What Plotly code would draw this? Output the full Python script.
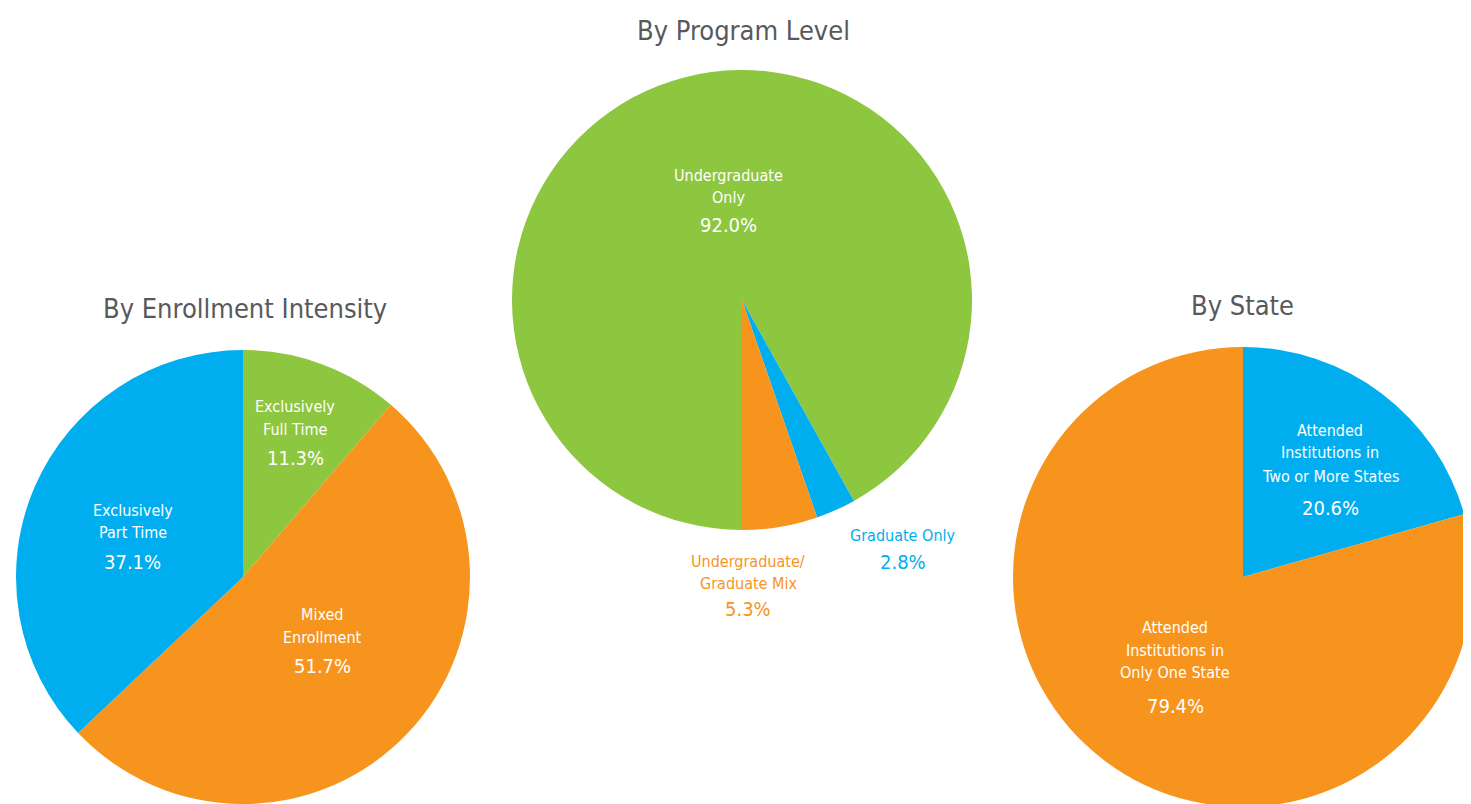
import plotly.graph_objects as go

W, H = 1471, 804
OFF = 8  # page body margin around the plot

GREEN = "#8DC63F"
ORANGE = "#F7941D"
BLUE = "#00AEEF"
TITLE_COLOR = "#58595B"

# ---- data ----
enroll_labels = ["Exclusively Full Time", "Mixed Enrollment", "Exclusively Part Time"]
enroll_values = [11.3, 51.7, 37.1]

program_labels = ["Undergraduate Only", "Graduate Only", "Undergraduate/Graduate Mix"]
program_values = [92.0, 2.8, 5.3]

state_labels = ["Attended Institutions in Two or More States", "Attended Institutions in Only One State"]
state_values = [20.6, 79.4]

titles = ["By Enrollment Intensity", "By Program Level", "By State"]

# ---- layout helpers (page pixels -> paper) ----
def px(x):
    return (x - OFF) / W

def py(y):
    return 1 - (y - OFF) / H

fig = go.Figure()

fig.add_trace(go.Pie(
    labels=enroll_labels, values=enroll_values, sort=False, direction="clockwise",
    rotation=0, marker=dict(colors=[GREEN, ORANGE, BLUE], line=dict(width=0)),
    textinfo="none", hoverinfo="label+percent", showlegend=False,
    domain=dict(x=[px(16), px(470)], y=[py(804), py(350)]),
))
fig.add_trace(go.Pie(
    labels=program_labels, values=program_values, sort=False, direction="clockwise",
    rotation=180, marker=dict(colors=[GREEN, BLUE, ORANGE], line=dict(width=0)),
    textinfo="none", hoverinfo="label+percent", showlegend=False,
    domain=dict(x=[px(512), px(972)], y=[py(530), py(70)]),
))
fig.add_trace(go.Pie(
    labels=state_labels, values=state_values, sort=False, direction="clockwise",
    rotation=0, marker=dict(colors=[BLUE, ORANGE], line=dict(width=0)),
    textinfo="none", hoverinfo="label+percent", showlegend=False,
    domain=dict(x=[px(1013), px(1473)], y=[py(807), py(347)]),
))

FONT = "DejaVu Sans Condensed, Roboto, sans-serif"
annotations = []

def note(text, x, y, size, color):
    annotations.append(dict(text=text, x=px(x), y=py(y), xref="paper", yref="paper",
                            showarrow=False, xanchor="center", yanchor="middle",
                            font=dict(family=FONT, size=size, color=color)))

# titles
for text, (tx, ty) in zip(titles, [(245, 308), (743, 30), (1242, 305)]):
    note(text, tx, ty, 27, TITLE_COLOR)

# slice labels: (name lines, value, x center, line y centers, percent y, color)
slice_text = [
    (["Exclusively", "Full Time"], enroll_values[0], 295, [407, 429], 458, "white"),
    (["Mixed", "Enrollment"], enroll_values[1], 322, [614, 637], 666, "white"),
    (["Exclusively", "Part Time"], enroll_values[2], 133, [510, 532], 562, "white"),
    (["Undergraduate", "Only"], program_values[0], 728, [176, 198], 225, "white"),
    (["Graduate Only"], program_values[1], 903, [535], 562, BLUE),
    (["Undergraduate/", "Graduate Mix"], program_values[2], 748, [561, 583], 609, ORANGE),
    (["Attended", "Institutions in", "Two or More States"], state_values[0], 1330, [430, 453, 476], 508, "white"),
    (["Attended", "Institutions in", "Only One State"], state_values[1], 1175, [627, 650, 672], 706, "white"),
]

for lines, val, x, ys, vy, col in slice_text:
    for line, y in zip(lines, ys):
        note(line, x, y, 16, col)
    note(f"{val:.1f}%", x, vy, 20, col)

fig.update_layout(
    width=W, height=H, margin=dict(l=0, r=0, t=0, b=0),
    paper_bgcolor="white", plot_bgcolor="white",
    annotations=annotations,
)

fig.write_html("out.html")
